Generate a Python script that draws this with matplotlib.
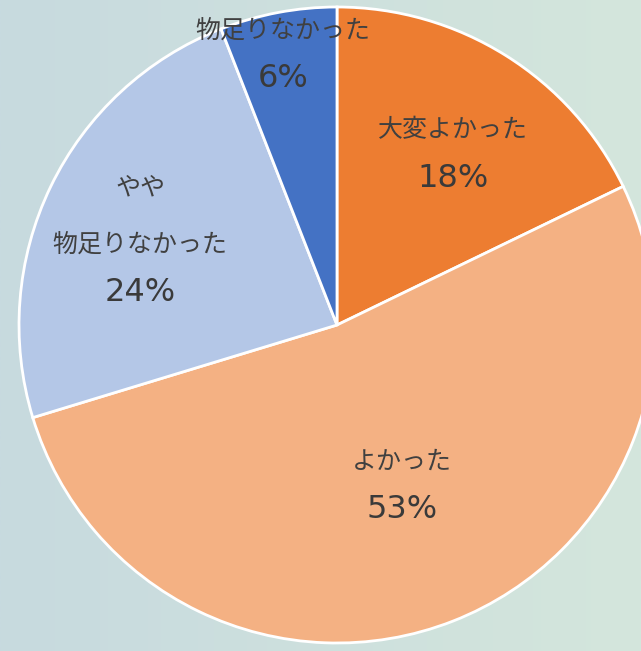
import numpy as np
import matplotlib.pyplot as plt
from matplotlib.colors import LinearSegmentedColormap
from matplotlib.transforms import offset_copy

plt.rcParams['font.family'] = ['Noto Sans CJK JP', 'DejaVu Sans']

# データ
labels = ["大変よかった", "よかった", "やや\n物足りなかった", "物足りなかった"]
values = [18, 53, 24, 6]
colors = ["#ED7D31", "#F4B183", "#B4C7E7", "#4472C4"]
# ラベル位置 (半径, 角度)
label_pos = [(0.648, 55.8), (0.545, -68.0), (0.644, 164.0), (0.867, 101.3)]

fig = plt.figure(figsize=(6.41, 6.51), dpi=100)

# 背景グラデーション
bg = fig.add_axes([0, 0, 1, 1])
cmap = LinearSegmentedColormap.from_list("bg", ["#C7DADF", "#D4E6DC"])
grad = np.linspace(0, 1, 256).reshape(1, -1)
bg.imshow(grad, cmap=cmap, aspect="auto", extent=[0, 1, 0, 1])
bg.axis("off")

# 円グラフ
R = 318
ax = fig.add_axes([(337 - R) / 641, (326 - R) / 651, 2 * R / 641, 2 * R / 651])
wedges, _ = ax.pie(values, colors=colors, startangle=90, counterclock=False,
                   wedgeprops=dict(edgecolor="white", linewidth=2))
ax.set_xlim(-1, 1)
ax.set_ylim(-1, 1)
ax.set_aspect("equal")
ax.axis("off")

for lab, v, (r, a) in zip(labels, values, label_pos):
    x, y = r * np.cos(np.deg2rad(a)), r * np.sin(np.deg2rad(a))
    lines = lab.split("\n")
    for i, line in enumerate(reversed(lines)):
        tr = offset_copy(ax.transData, fig=fig, x=0, y=24 + 57 * i, units="dots")
        ax.text(x, y, line, transform=tr, ha="center", va="center",
                fontsize=18, color="#404040")
    tr = offset_copy(ax.transData, fig=fig, x=0, y=-24, units="dots")
    ax.text(x, y, f"{v}%", transform=tr, ha="center", va="center",
            fontsize=23, color="#3a3a3a", family="DejaVu Sans")

fig.savefig("out.png", dpi=100)
